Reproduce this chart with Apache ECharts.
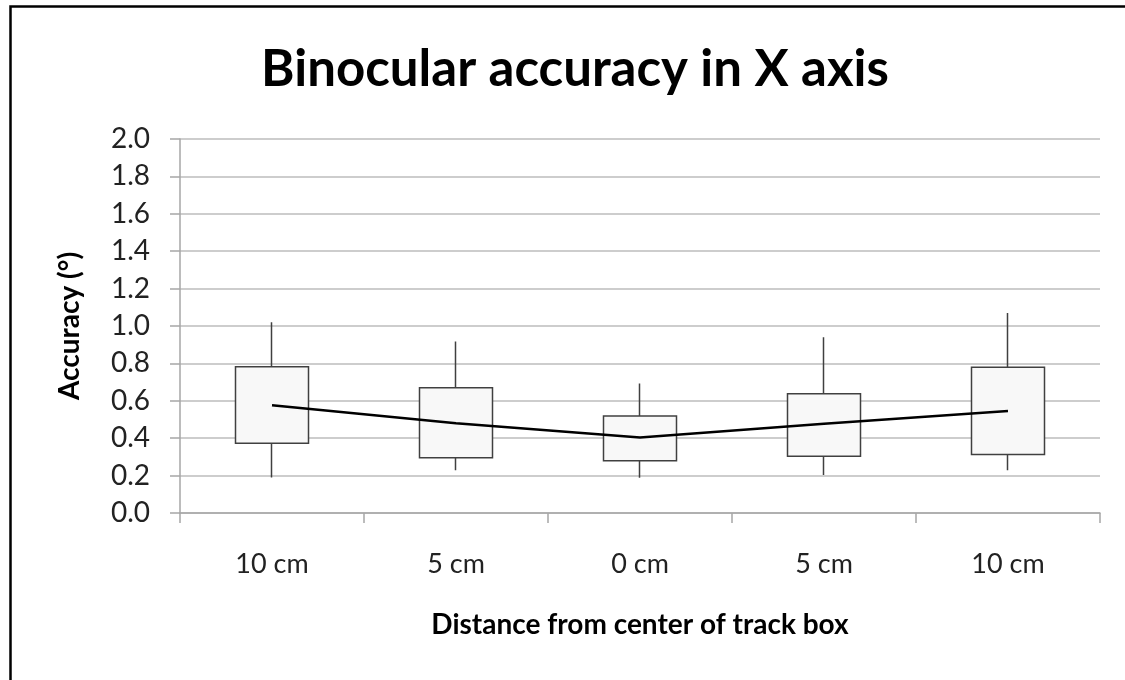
<!DOCTYPE html>
<html>
<head>
<meta charset="utf-8">
<script src="https://cdn.jsdelivr.net/npm/echarts@6/dist/echarts.min.js"></script>
<style>
html,body{margin:0;padding:0;background:#fff;}
#chart{width:1125px;height:680px;}
</style>
</head>
<body>
<div id="chart"></div>
<script>
var categories = ['10 cm', '5 cm', '0 cm', '5 cm', '10 cm'];
var q1 = [0.373, 0.295, 0.279, 0.304, 0.313];
var q3 = [0.782, 0.670, 0.519, 0.638, 0.780];
var whiskerLow = [0.190, 0.229, 0.188, 0.203, 0.229];
var whiskerHigh = [1.020, 0.917, 0.693, 0.940, 1.070];
var means = [0.576, 0.480, 0.404, 0.477, 0.546];
var yTicks = [0, 0.2, 0.4, 0.6, 0.8, 1.0, 1.2, 1.4, 1.6, 1.8, 2.0];

var boxData = categories.map(function (c, i) {
  return [q1[i], q3[i], whiskerLow[i], whiskerHigh[i]];
});

var chart = echarts.init(document.getElementById('chart'));
var font = 'Lato, "Open Sans", sans-serif';
chart.setOption({
  animation: false,
  backgroundColor: '#fff',
  title: {
    text: 'Binocular accuracy in X axis',
    left: 570, top: 39, textAlign: 'center',
    textStyle: { fontFamily: font, fontWeight: 'bold', fontSize: 51, color: '#000' }
  },
  graphic: [{
    type: 'rect', left: 8, top: 4, z: 100, silent: true,
    shape: { width: 1200, height: 800 },
    style: { fill: 'none', stroke: '#000', lineWidth: 2.5 }
  }],
  grid: { left: 180, right: 25, top: 139, bottom: 167 },
  xAxis: {
    type: 'category', data: categories, boundaryGap: true,
    name: 'Distance from center of track box', nameLocation: 'middle', nameGap: 98,
    nameTextStyle: { fontFamily: font, fontWeight: 'bold', fontSize: 28, color: '#000' },
    axisLine: { lineStyle: { color: '#a6a6a6', width: 1.5 } },
    axisTick: { show: true, length: 10, interval: 0, lineStyle: { color: '#a6a6a6', width: 1.5 } },
    axisLabel: { fontFamily: font, fontSize: 27, color: '#222', margin: 38, interval: 0 }
  },
  yAxis: {
    type: 'value', min: 0, max: 2, interval: 0.2,
    name: 'Accuracy (°)', nameLocation: 'middle', nameGap: 96, nameRotate: 90,
    nameTextStyle: { fontFamily: font, fontWeight: 'bold', fontSize: 28, color: '#000' },
    axisLine: { show: true, lineStyle: { color: '#a6a6a6', width: 1.5 } },
    axisTick: { show: true, length: 10, lineStyle: { color: '#a6a6a6', width: 1.5 } },
    splitLine: { show: true, lineStyle: { color: '#bdbdbd', width: 1.5 } },
    axisLabel: {
      fontFamily: font, fontSize: 28, color: '#222', margin: 30,
      formatter: function (v) { return v.toFixed(1); }
    }
  },
  series: [{
    type: 'candlestick',
    data: boxData,
    barWidth: 74,
    itemStyle: {
      color: '#f8f8f8', color0: '#f8f8f8',
      borderColor: '#404040', borderColor0: '#404040', borderWidth: 1.5
    },
    z: 3
  }, {
    type: 'line',
    data: means,
    symbol: 'none',
    lineStyle: { color: '#000', width: 2.5 },
    z: 5
  }]
});
</script>
</body>
</html>
